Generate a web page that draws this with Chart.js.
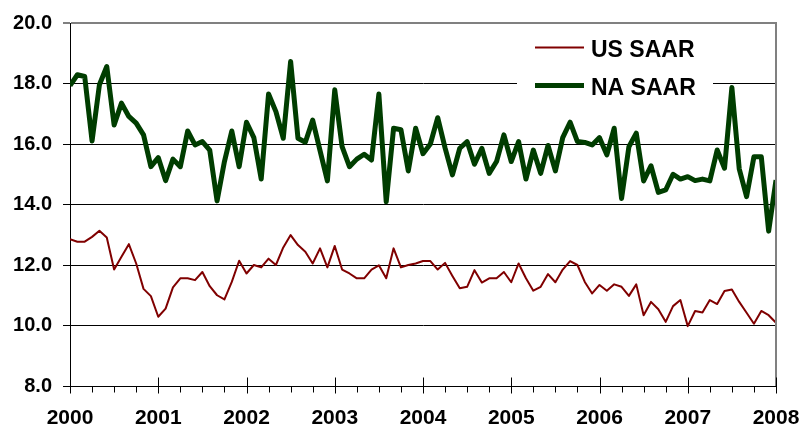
<!DOCTYPE html>
<html><head><meta charset="utf-8">
<script src="https://cdn.jsdelivr.net/npm/chart.js@4.4.1/dist/chart.umd.min.js"></script>
<style>html,body{margin:0;padding:0;background:#fff;}#wrap{width:799px;height:427px;}</style>
</head><body><div id="wrap"><canvas id="c" width="799" height="427"></canvas></div>
<script>
// ---- data (monthly, Jan 2000 .. Jan 2008) ----
const startYear = 2000;
const yearLabels = ['2000','2001','2002','2003','2004','2005','2006','2007','2008'];
const yTickValues = [8, 10, 12, 14, 16, 18, 20];
const seriesNames = ['US SAAR', 'NA SAAR'];
const usSaar = [
  12.85, 12.77, 12.77, 12.93, 13.13, 12.91, 11.85, 12.27, 12.69, 12.05, 11.21, 10.97,
  10.29, 10.56, 11.26, 11.56, 11.56, 11.50, 11.77, 11.30, 11.00, 10.86, 11.44, 12.14,
  11.72, 12.00, 11.92, 12.21, 12.00, 12.58, 12.99, 12.66, 12.44, 12.05, 12.55, 11.92,
  12.63, 11.85, 11.72, 11.56, 11.56, 11.85, 11.99, 11.56, 12.55, 11.92, 12.00, 12.05,
  12.13, 12.13, 11.85, 12.07, 11.64, 11.23, 11.28, 11.83, 11.42, 11.56, 11.56, 11.77,
  11.43, 12.05, 11.56, 11.15, 11.28, 11.70, 11.43, 11.85, 12.13, 12.00, 11.44, 11.06,
  11.34, 11.15, 11.36, 11.28, 10.98, 11.36, 10.34, 10.78, 10.54, 10.12, 10.64, 10.84,
  9.98, 10.48, 10.43, 10.84, 10.71, 11.14, 11.19, 10.78, 10.42, 10.06, 10.48, 10.34,
  10.09
];
const naSaar = [
  17.93, 18.29, 18.23, 16.10, 17.96, 18.56, 16.63, 17.35, 16.91, 16.69, 16.30, 15.25,
  15.55, 14.79, 15.50, 15.25, 16.43, 15.97, 16.08, 15.80, 14.12, 15.42, 16.43, 15.25,
  16.72, 16.21, 14.84, 17.65, 17.07, 16.19, 18.73, 16.19, 16.06, 16.79, 15.78, 14.78,
  17.79, 15.91, 15.25, 15.50, 15.66, 15.47, 17.65, 14.09, 16.52, 16.47, 15.11, 16.52,
  15.68, 16.00, 16.87, 15.87, 14.98, 15.86, 16.08, 15.33, 15.86, 15.03, 15.42, 16.30,
  15.42, 16.08, 14.84, 15.80, 15.03, 15.95, 15.11, 16.21, 16.72, 16.08, 16.05, 15.97,
  16.21, 15.64, 16.52, 14.20, 15.91, 16.36, 14.78, 15.28, 14.40, 14.48, 15.00, 14.84,
  14.92, 14.79, 14.84, 14.78, 15.80, 15.20, 17.87, 15.18, 14.26, 15.58, 15.58, 13.12,
  14.81
];

const toPoints = arr => arr.map((v, i) => ({ x: startYear + i / 12, y: v }));
const FONT = '"Liberation Sans", Arial, Helvetica, sans-serif';

const extrasPlugin = {
  id: 'extras',
  beforeDatasetsDraw(chart) {
    const ctx = chart.ctx;
    // legend (white box over gridlines)
    ctx.save();
    ctx.fillStyle = '#fff';
    ctx.fillRect(517, 28, 196, 76);
    const rows = [{ y: 47.5, tb: 57 }, { y: 85.5, tb: 95 }];
    chart.data.datasets.forEach((ds, k) => {
      ctx.beginPath();
      ctx.strokeStyle = ds.borderColor;
      ctx.lineWidth = ds.borderWidth;
      ctx.moveTo(535, rows[k].y);
      ctx.lineTo(584, rows[k].y);
      ctx.stroke();
      ctx.fillStyle = '#000';
      ctx.font = 'bold 23px ' + FONT;
      ctx.textBaseline = 'alphabetic';
      ctx.textAlign = 'left';
      ctx.fillText(ds.label, 591, rows[k].tb);
    });
    ctx.restore();
  },
  afterDraw(chart) {
    const ctx = chart.ctx, ca = chart.chartArea, xs = chart.scales.x;
    ctx.save();
    // right border
    ctx.strokeStyle = '#808080';
    ctx.lineWidth = 2;
    ctx.beginPath();
    ctx.moveTo(Math.round(ca.right), ca.top - 1);
    ctx.lineTo(Math.round(ca.right), ca.bottom);
    ctx.stroke();
    // x tick marks: major (years) cross axis, minor (quarters) below
    ctx.strokeStyle = '#000';
    ctx.lineWidth = 1;
    const b = Math.round(ca.bottom) + 0.5;
    for (let q = 0; q <= (yearLabels.length - 1) * 4; q++) {
      const px = Math.round(xs.getPixelForValue(startYear + q / 4)) + 0.5;
      ctx.beginPath();
      if (q % 4 === 0) { ctx.moveTo(px, b - 9); ctx.lineTo(px, b + 7); }
      else { ctx.moveTo(px, b); ctx.lineTo(px, b + 6); }
      ctx.stroke();
    }
    ctx.restore();
  }
};

new Chart(document.getElementById('c'), {
  type: 'line',
  data: {
    datasets: [
      { label: seriesNames[0], data: toPoints(usSaar), borderColor: '#800000', borderWidth: 2, borderJoinStyle: 'round', pointRadius: 0, tension: 0, fill: false },
      { label: seriesNames[1], data: toPoints(naSaar), borderColor: '#003d00', borderWidth: 5, borderJoinStyle: 'round', pointRadius: 0, tension: 0, fill: false }
    ]
  },
  options: {
    responsive: false,
    animation: false,
    layout: { padding: { top: 23, right: 0, left: 0, bottom: 0 } },
    plugins: { legend: { display: false }, tooltip: { enabled: false } },
    scales: {
      x: {
        type: 'linear', min: startYear, max: startYear + yearLabels.length - 1,
        afterFit(s) { s.height = 41; s.paddingRight = 23; s.paddingLeft = 0; },
        ticks: { stepSize: 1, padding: 20, color: '#000', font: { family: FONT, size: 21, weight: 'bold' },
                 maxRotation: 0, autoSkip: false,
                 callback: v => yearLabels[Math.round(v - startYear)] },
        grid: { display: false, drawTicks: false },
        border: { display: true, color: '#000', width: 1 }
      },
      y: {
        min: yTickValues[0], max: yTickValues[yTickValues.length - 1],
        afterFit(s) { s.width = 70; },
        afterBuildTicks(s) { s.ticks = yTickValues.map(v => ({ value: v })); },
        ticks: { padding: 11, color: '#000', font: { family: FONT, size: 20, weight: 'bold' },
                 callback: v => Number(v).toFixed(1) },
        grid: {
          color: c => (c.tick && c.tick.value === 20) ? '#808080' : '#000',
          lineWidth: c => (c.tick && c.tick.value === 20) ? 2 : 1,
          tickLength: 7, drawTicks: true
        },
        border: { display: true, color: '#000', width: 1 }
      }
    }
  },
  plugins: [extrasPlugin]
});
</script></body></html>
